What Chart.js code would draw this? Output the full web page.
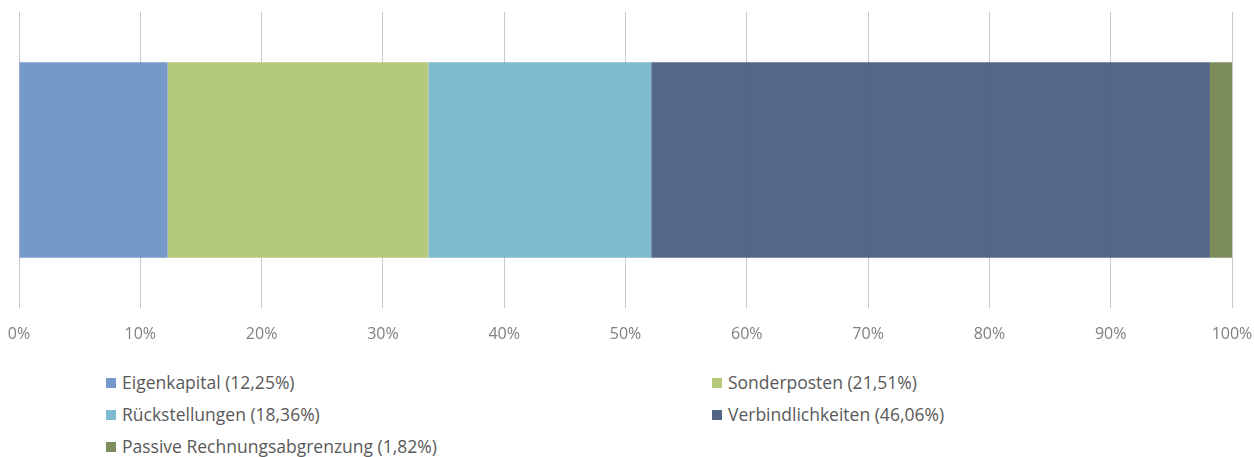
<!DOCTYPE html>
<html>
<head>
<meta charset="utf-8">
<script src="https://cdn.jsdelivr.net/npm/chart.js@4"></script>
<style>
  body { margin: 0; background: #fff; width: 1254px; height: 457px; overflow: hidden; font-family: "Open Sans", sans-serif; }
  #wrap { position: absolute; left: 0; top: 0; width: 1254px; height: 350px; }
  #legend { position: absolute; left: 106px; top: 369px; width: 1100px; }
  .item { position: absolute; white-space: nowrap; font-size: 17.5px; color: #595959; line-height: 26px; }
  .item span.box { display: inline-block; width: 10px; height: 10px; margin-right: 6px; vertical-align: 1px; }
</style>
</head>
<body>
<div id="wrap"><canvas id="chart"></canvas></div>
<div id="legend"></div>
<script>
// Daten
const categories = [''];
const seriesNames = ['Eigenkapital', 'Sonderposten', 'Rückstellungen', 'Verbindlichkeiten', 'Passive Rechnungsabgrenzung'];
const seriesValues = [12.25, 21.51, 18.36, 46.06, 1.82];
const legendColors = ['#7599cb', '#b5c97d', '#7fbbd0', '#536587', '#7d8c5b'];
// leicht transparent, damit die Gitterlinien durchscheinen
const barColors = [
    'rgba(105, 144, 198, 0.92)',
    'rgba(174, 196, 114, 0.92)',
    'rgba(116, 181, 204, 0.92)',
    'rgba(70, 90, 126, 0.92)',
    'rgba(114, 130, 77, 0.92)'
];
const tickLabels = ['0%', '10%', '20%', '30%', '40%', '50%', '60%', '70%', '80%', '90%', '100%'];

function fmt(v) {
    return v.toFixed(2).replace('.', ',') + '%';
}

const datasets = seriesNames.map((name, i) => ({
    label: name + ' (' + fmt(seriesValues[i]) + ')',
    data: [seriesValues[i]],
    backgroundColor: barColors[i],
    borderWidth: 0,
    categoryPercentage: 1,
    barPercentage: 0.66
}));

const ctx = document.getElementById('chart').getContext('2d');
const chart = new Chart(ctx, {
    type: 'bar',
    data: { labels: categories, datasets: datasets },
    options: {
        indexAxis: 'y',
        responsive: true,
        maintainAspectRatio: false,
        animation: false,
        layout: { padding: { left: 19, right: 22, top: 12, bottom: 2 } },
        scales: {
            x: {
                stacked: true,
                min: 0,
                max: 100,
                grid: { color: '#c9c9c9', drawTicks: false },
                border: { display: false },
                ticks: {
                    stepSize: 10,
                    padding: 17,
                    color: '#7f7f7f',
                    font: { family: 'Open Sans', size: 16 },
                    callback: (v, i) => tickLabels[i]
                },
                afterFit: (scale) => {
                    scale.paddingLeft = 0;
                    scale.paddingRight = 0;
                    scale.height = 40;
                }
            },
            y: {
                stacked: true,
                display: false
            }
        },
        plugins: {
            legend: { display: false },
            tooltip: { enabled: false }
        }
    }
});

// Legende in zwei Spalten
const legend = document.getElementById('legend');
const colX = [0, 606];
datasets.forEach((ds, i) => {
    const el = document.createElement('div');
    el.className = 'item';
    el.style.left = colX[i % 2] + 'px';
    el.style.top = (Math.floor(i / 2) * 32) + 'px';
    el.innerHTML = '<span class="box" style="background:' + legendColors[i] + '"></span>' + ds.label;
    legend.appendChild(el);
});
</script>
</body>
</html>
